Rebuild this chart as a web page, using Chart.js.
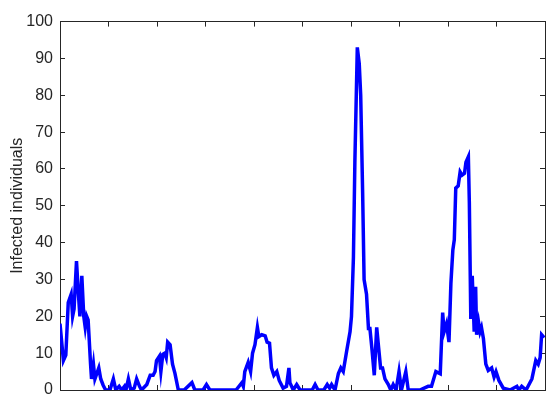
<!DOCTYPE html>
<html lang="en">
<head>
    <meta charset="UTF-8">
    <title>Infected individuals</title>
    <script src="https://cdn.jsdelivr.net/npm/chart.js@4.4.1/dist/chart.umd.min.js"></script>
    <style>
        html, body {
            margin: 0;
            padding: 0;
            background: #fff;
        }
        .wrap {
            width: 550px;
            height: 416px;
        }
    </style>
</head>
<body>
    <div class="wrap">
        <canvas id="infChart" width="550" height="416"></canvas>
    </div>

    <script>
        // time axis (0..100) and infected counts
        const timeValues = [
            0, 0.7, 1.2, 1.7, 2.3, 2.6, 2.9, 3.4, 3.8, 4.1, 4.5, 4.9, 5.2, 5.5, 5.8,
            6.3, 6.5, 6.9, 7.2, 7.6, 8.0, 8.4, 8.9, 9.4, 10.3, 11.0, 11.5, 12.2, 12.7,
            13.3, 13.6, 14.1, 14.6, 15.3, 15.8, 16.4, 16.8, 17.9, 18.6, 19.2, 19.6,
            19.9, 20.5, 20.8, 21.2, 21.6, 21.9, 22.2, 22.7, 23.2, 23.7, 24.4, 25.6,
            27.2, 27.8, 29.5, 30.2, 30.9, 36.3, 37.5, 37.8, 38.1, 38.8, 39.3, 39.7,
            40.2, 40.7, 41.0, 41.6, 42.3, 42.7, 43.2, 43.6, 44.1, 44.7, 45.2, 46.0,
            46.7, 47.2, 47.4, 48.1, 48.8, 49.5, 52.0, 52.6, 53.2, 54.4, 55.1, 55.6,
            56.0, 56.7, 57.4, 57.9, 58.4, 59.1, 59.8, 60.1, 60.5, 60.8, 61.3, 61.7,
            62.0, 62.4, 62.7, 63.2, 63.6, 63.9, 64.3, 64.8, 65.3, 65.7, 66.1, 66.5,
            67.0, 67.7, 68.2, 68.7, 69.3, 69.9, 70.4, 71.3, 71.8, 74.2, 75.9, 76.6,
            77.5, 78.4, 78.9, 79.2, 79.7, 80.2, 80.6, 81.0, 81.3, 81.6, 82.1, 82.5,
            82.9, 83.4, 83.7, 84.2, 84.4, 84.7, 85.0, 85.4, 85.7, 85.9, 86.3, 86.6,
            86.9, 87.3, 87.8, 88.3, 89.0, 89.5, 89.9, 90.5, 91.4, 92.8, 94.2, 94.6,
            95.2, 96.1, 97.3, 98.1, 98.6, 99.0, 99.3, 99.8
        ];
        const infected = [
            18, 8, 9.5, 23.7, 26, 20, 22, 35, 26, 20, 31, 20, 17, 20, 19,
            7, 3, 7, 3, 4.5, 6, 3, 1.3, 0, 0, 3, 0, 1, 0,
            1, 0, 3, 0, 0.5, 3, 1, 0, 1.5, 4, 4, 5,
            8, 9.2, 5, 9.7, 10, 8.8, 13, 12.3, 7, 4.5, 0, 0,
            2, 0, 0, 1.5, 0, 0, 2, 1, 5, 7.5, 5, 10,
            12.3, 17, 14.5, 15, 14.7, 13, 12.7, 6, 4, 5, 2.6, 0.5,
            1, 6, 2, 0, 1.5, 0, 0, 1.5, 0, 0, 1.5, 0.5,
            1.5, 0, 4.5, 6, 5, 10.5, 15.8, 20, 36, 62, 93, 88.6,
            80, 53.5, 30, 26, 16.7, 16.7, 11.4, 4, 17, 11.4, 6, 6,
            3, 1.5, 0, 1.5, 0, 5, 0, 5, 0, 0, 1, 1,
            5, 4.4, 21, 15.8, 18, 13, 29, 38, 40.8, 54.8, 55.4, 59.2,
            58.3, 58.8, 61.8, 63.3, 50.9, 19.3, 31, 15.8, 28, 15, 18.4, 15.8,
            17, 14, 7, 5.3, 6, 3.5, 5, 2.6, 0.5, 0, 1, 0,
            1, 0, 3, 8, 7, 8.8, 15, 14.2
        ];
        const yTicks = [0, 10, 20, 30, 40, 50, 60, 70, 80, 90, 100];

        const axisColor = '#262626';
        const fontFamily = '"Liberation Sans", Arial, Helvetica, sans-serif';

        const points = timeValues.map((t, i) => ({ x: t, y: infected[i] }));

        const ctx = document.getElementById('infChart').getContext('2d');
        new Chart(ctx, {
            type: 'line',
            data: {
                datasets: [{
                    label: 'Infected',
                    data: points,
                    borderColor: '#0000ff',
                    borderWidth: 3.5,
                    pointRadius: 0,
                    tension: 0,
                    fill: false,
                    xAxisID: 'x',
                    yAxisID: 'y'
                }]
            },
            options: {
                responsive: false,
                animation: false,
                layout: { padding: 0 },
                plugins: {
                    legend: { display: false },
                    tooltip: { enabled: false }
                },
                scales: {
                    x: {
                        type: 'linear',
                        position: 'bottom',
                        min: 0,
                        max: 100,
                        ticks: { stepSize: 10, display: false },
                        grid: { drawOnChartArea: false, tickLength: -5, color: axisColor },
                        border: { display: true, color: axisColor, width: 1 },
                        afterFit: (s) => { s.height = 26; }
                    },
                    x2: {
                        type: 'linear',
                        position: 'top',
                        min: 0,
                        max: 100,
                        ticks: { stepSize: 10, display: false },
                        grid: { drawOnChartArea: false, tickLength: -5, color: axisColor },
                        border: { display: true, color: axisColor, width: 1 },
                        afterFit: (s) => { s.height = 10; }
                    },
                    y: {
                        position: 'left',
                        min: 0,
                        max: 100,
                        afterBuildTicks: (s) => { s.ticks = yTicks.map(v => ({ value: v })); },
                        ticks: {
                            color: axisColor,
                            padding: 12,
                            font: { family: fontFamily, size: 16 }
                        },
                        title: {
                            display: true,
                            text: 'Infected individuals',
                            color: axisColor,
                            padding: { top: 8, bottom: 0 },
                            font: { family: fontFamily, size: 16 }
                        },
                        grid: { drawOnChartArea: false, tickLength: -5, color: axisColor },
                        border: { display: true, color: axisColor, width: 1 },
                        afterFit: (s) => { s.width = 60; }
                    },
                    y2: {
                        position: 'right',
                        min: 0,
                        max: 100,
                        afterBuildTicks: (s) => { s.ticks = yTicks.map(v => ({ value: v })); },
                        ticks: { display: false },
                        grid: { drawOnChartArea: false, tickLength: -5, color: axisColor },
                        border: { display: true, color: axisColor, width: 1 },
                        afterFit: (s) => { s.width = 5; }
                    }
                }
            }
        });
    </script>
</body>
</html>
